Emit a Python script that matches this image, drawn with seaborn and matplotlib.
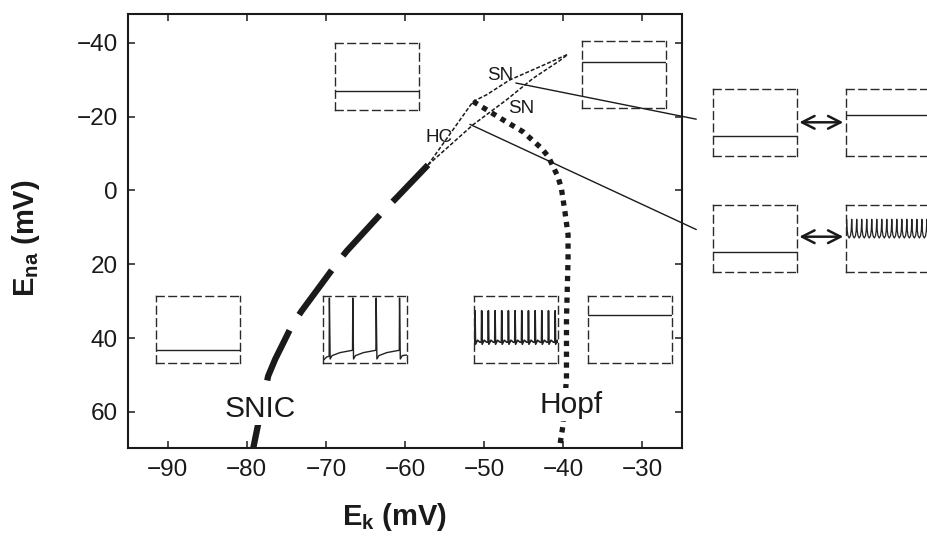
import matplotlib
matplotlib.use("Agg")
import matplotlib.pyplot as plt
import seaborn as sns

# ---------------- bifurcation curves in the (E_k, E_na) plane, mV ----------------
snic_ek = [-79.2, -78.56, -77.3, -76.4, -74.34, -73.08, -68.88, -67.4, -62.78, -61.1, -57.1]
snic_ena = [70.0, 63.3, 50.3, 45.7, 36.8, 32.7, 20.5, 16.5, 5.7, 2.05, -6.9]

hopf_ek = [-51.4, -47.6, -45.1, -42.8, -41.9, -41.3, -40.7, -40.25, -39.8, -39.4,
           -39.4, -39.6, -39.6, -40.05, -40.25, -40.5]
hopf_ena = [-24.1, -19.1, -15.9, -11.5, -9.2, -6.5, -3.8, -0.65, 5.7, 12.0,
            18.7, 35.0, 51.0, 63.8, 66.5, 70.0]

hc_ek = [-57.1, -51.4]
hc_ena = [-6.9, -24.1]

sn_upper_ek = [-51.4, -49.7, -46.8, -43.4, -39.4]
sn_upper_ena = [-24.1, -25.9, -29.9, -33.1, -36.9]

sn_lower_ek = [-57.1, -51.4, -47.2, -43.8, -40.5, -39.4]
sn_lower_ena = [-6.9, -17.8, -24.5, -30.4, -35.1, -36.9]

x_ticks = [-90, -80, -70, -60, -50, -40, -30]
y_ticks = [-40, -20, 0, 20, 40, 60]

# ---------------- voltage traces shown in the small boxes (0 = box bottom, 1 = box top) ----
rest_levels = {
    "silent_top": 0.28,
    "bistable_top": 0.69,
    "sn_left": 0.31,
    "sn_right": 0.62,
    "hc_left": 0.29,
    "silent_low_ek": 0.19,
    "silent_high_ek": 0.71,
}

snic_spike_t = [0.07, 0.35, 0.63, 0.91]
snic_peak, snic_trough, snic_threshold, snic_start = 0.97, 0.06, 0.19, 0.04

hopf_spike_t = [0.012, 0.092, 0.172, 0.252, 0.332, 0.412, 0.492,
                0.572, 0.652, 0.732, 0.812, 0.892, 0.972]
hopf_peak, hopf_trough, hopf_base = 0.78, 0.28, 0.31

osc_peak_t = [0.012, 0.072, 0.132, 0.192, 0.252, 0.312, 0.372, 0.432, 0.492,
              0.552, 0.612, 0.672, 0.732, 0.792, 0.852, 0.912, 0.972]
osc_top, osc_bottom = 0.78, 0.50

# ---------------- figure ----------------
sns.set_theme(style="ticks")
plt.rcParams["font.family"] = ["Liberation Sans", "DejaVu Sans"]
plt.rcParams["mathtext.fontset"] = "custom"
plt.rcParams["mathtext.rm"] = "Liberation Sans"
plt.rcParams["mathtext.bf"] = "Liberation Sans:bold"
plt.rcParams["mathtext.it"] = "Liberation Sans:italic"
plt.rcParams["mathtext.sf"] = "Liberation Sans"

W, H = 927, 536
fig = plt.figure(figsize=(W / 100, H / 100), dpi=100)
ax = fig.add_axes([127.7 / W, 1 - 448 / H, (682 - 127.7) / W, (448 - 14) / H])

ink = "#1a1a1a"


def curve(xs, ys, lw, style, color=ink, z=2):
    sns.lineplot(x=xs, y=ys, ax=ax, sort=False, estimator=None, color=color,
                 linewidth=lw, linestyle=style, zorder=z)
    line = ax.get_lines()[-1]
    line.set_dash_capstyle("butt")
    return line


curve(snic_ek, snic_ena, 4.5, (0.6, (8.8, 2.95)))
curve(hopf_ek, hopf_ena, 3.8, (0, (1.0, 1.05)))
curve(hc_ek, hc_ena, 1.1, (0, (2.6, 1.3)))
curve(sn_upper_ek, sn_upper_ena, 1.1, (0, (2.6, 1.3)))
curve(sn_lower_ek, sn_lower_ena, 1.1, (0, (2.6, 1.3)))

ax.set_xlim(-95.05, -25.0)
ax.set_ylim(69.8, -47.8)
ax.set_xticks(x_ticks)
ax.set_yticks(y_ticks)
ax.tick_params(direction="in", top=True, right=True, length=5, width=1.1,
               labelsize=17.5, colors=ink)
ax.tick_params(axis="x", pad=8)
ax.tick_params(axis="y", pad=7)
for sp in ax.spines.values():
    sp.set_visible(True)
    sp.set_linewidth(1.5)
    sp.set_color(ink)

ax.set_xlabel(r"$\mathbf{E_k}$ (mV)", fontsize=21, fontweight="bold", color=ink)
ax.set_ylabel(r"$\mathbf{E_{na}}$ (mV)", fontsize=21, fontweight="bold", color=ink)
ax.xaxis.set_label_coords(0.482, -0.122)
ax.yaxis.set_label_coords(-0.155, 0.483)

# curve names
box = dict(facecolor="white", edgecolor="none", pad=1.5)
ax.text(-78.35, 61.5, "SNIC", ha="center", va="baseline", fontsize=21.5, color=ink, bbox=box, zorder=5)
ax.text(-39.0, 60.2, "Hopf", ha="center", va="baseline", fontsize=21.5, color=ink, bbox=box, zorder=5)
ax.text(-48.0, -29.9, "SN", ha="center", va="baseline", fontsize=13.5, color=ink)
ax.text(-45.3, -20.9, "SN", ha="center", va="baseline", fontsize=13.5, color=ink)
ax.text(-55.7, -13.2, "HC", ha="center", va="baseline", fontsize=13.5, color=ink)

# leader lines from the SN / HC curves to the bistability boxes
ax.plot([-46.0, -23.2], [-29.1, -19.3], color=ink, lw=1.0, clip_on=False, zorder=3)
ax.plot([-51.8, -23.2], [-17.9, 10.6], color=ink, lw=1.0, clip_on=False, zorder=3)


def add_box(left_px, top_px, w_px=83.5, h_px=67.0):
    iax = fig.add_axes([left_px / W, 1 - (top_px + h_px) / H, w_px / W, h_px / H])
    iax.set_xlim(0, 1)
    iax.set_ylim(0, 1)
    iax.set_xticks([])
    iax.set_yticks([])
    iax.set_facecolor("none")
    for sp in iax.spines.values():
        sp.set_visible(True)
        sp.set_linestyle((0, (5.5, 3.4)))
        sp.set_linewidth(1.0)
        sp.set_color("#2a2a2a")
    return iax


def trace(iax, xs, ys, lw=1.0):
    sns.lineplot(x=xs, y=ys, ax=iax, sort=False, estimator=None, color="#222222",
                 linewidth=lw)


def flat(iax, level):
    trace(iax, [0.0, 1.0], [level, level])


# quiescent boxes
flat(add_box(335, 42.5), rest_levels["silent_top"])
flat(add_box(582, 41.0), rest_levels["bistable_top"])
flat(add_box(713.3, 89.3), rest_levels["sn_left"])
flat(add_box(845.7, 89.3), rest_levels["sn_right"])
flat(add_box(713.3, 204.5), rest_levels["hc_left"])
flat(add_box(156, 296), rest_levels["silent_low_ek"])
flat(add_box(588.3, 296), rest_levels["silent_high_ek"])

# SNIC spiking: slow recovery between spikes
sx, sy = [0.0, 0.04], [snic_start, 0.09]
for i, t in enumerate(snic_spike_t):
    base = 0.10 if i == 0 else snic_threshold
    sx += [t, t + 0.003, t + 0.012]
    sy += [base, snic_peak, snic_trough]
    for dx, dv in [(0.035, 0.05), (0.13, 0.095)]:
        if t + dx < 1.0:
            sx.append(t + dx)
            sy.append(snic_trough + dv)
sx.append(1.0)
sy.append(snic_trough + 0.06)
trace(add_box(323.3, 296), sx, sy)

# Hopf spiking: fast regular firing
hx, hy = [], []
for t in hopf_spike_t:
    hx += [t - 0.004, t, t + 0.006, t + 0.03, t + 0.06]
    hy += [hopf_base, hopf_peak, hopf_trough, hopf_base + 0.03, hopf_base]
hx = [max(0.0, min(1.0, v)) for v in hx]
trace(add_box(474, 296), hx, hy, lw=1.2)

# HC side: high-frequency small oscillation
cycle_phase = [0.0, 0.1, 0.25, 0.5, 0.75, 0.9, 1.0]
cycle_shape = [1.0, 0.4, 0.12, 0.0, 0.12, 0.4, 1.0]
ox, oy = [0.0], [osc_bottom + 0.06]
period = osc_peak_t[1] - osc_peak_t[0]
for t in osc_peak_t:
    for ph, s in zip(cycle_phase, cycle_shape):
        ox.append(t + ph * period)
        oy.append(osc_bottom + s * (osc_top - osc_bottom))
trace(add_box(845.7, 204.5), ox, oy, lw=0.9)

# double arrows between the coexisting states
for y_img in (122.3, 236.7):
    ax.annotate("", xy=(843.3, H - y_img), xytext=(799.3, H - y_img),
                xycoords="figure pixels", textcoords="figure pixels",
                arrowprops=dict(arrowstyle="<->,head_length=0.75,head_width=0.38",
                                lw=1.8, color=ink, shrinkA=0, shrinkB=0,
                                mutation_scale=12))

fig.savefig("out.png", dpi=100)
